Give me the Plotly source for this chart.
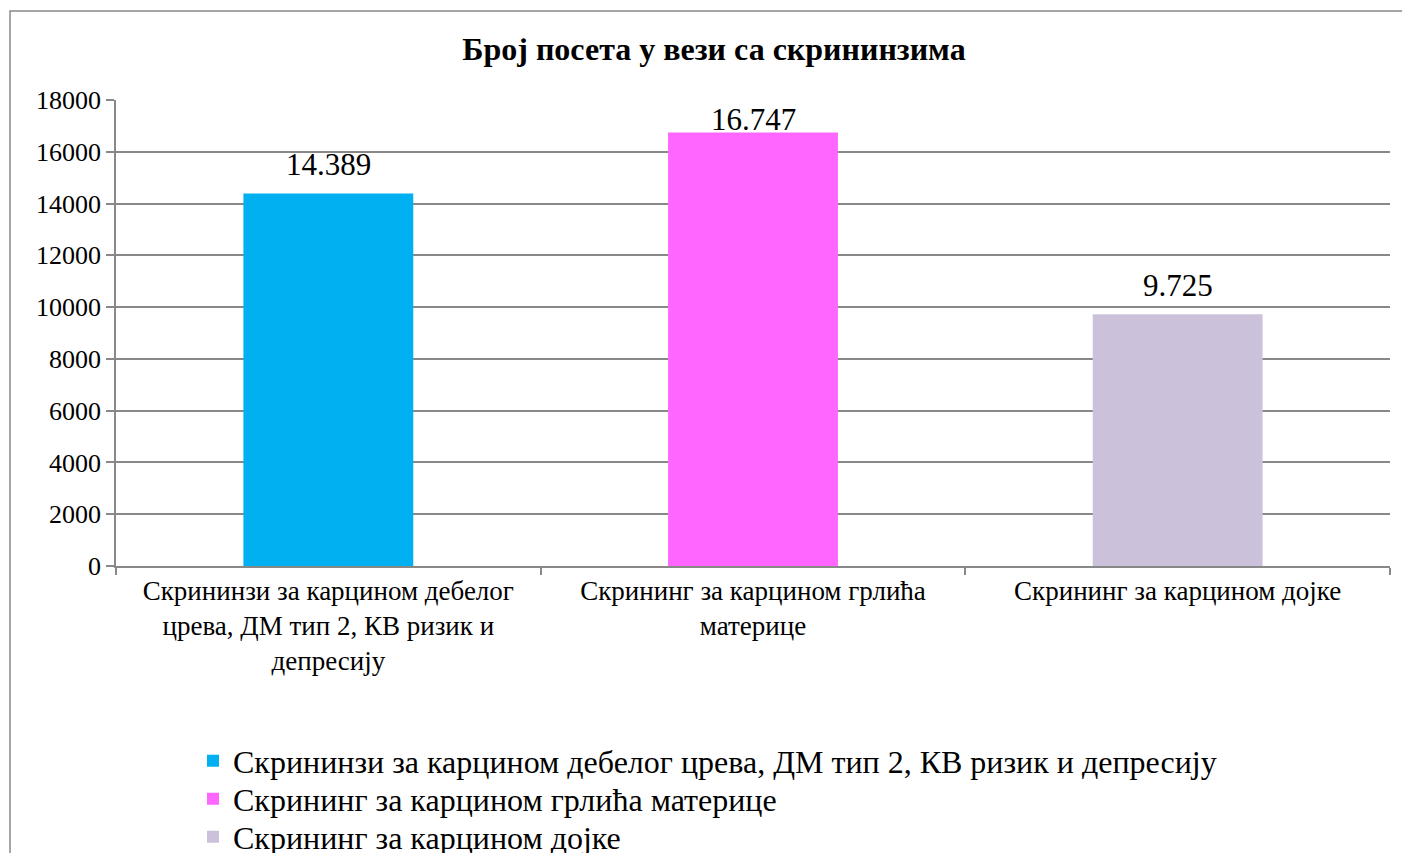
import plotly.graph_objects as go

categories = [
    "Скрининзи за карцином дебелог<br>црева, ДМ тип 2, КВ ризик и<br>депресију",
    "Скрининг за карцином грлића<br>материце",
    "Скрининг за карцином дојке",
]
legend_names = [
    "Скрининзи за карцином дебелог црева, ДМ тип 2, КВ ризик и депресију",
    "Скрининг за карцином грлића материце",
    "Скрининг за карцином дојке",
]
values = [14389, 16747, 9725]
value_labels = ["14.389", "16.747", "9.725"]
colors = ["#00B0F0", "#FF66FF", "#CCC1DA"]
y_ticks = [0, 2000, 4000, 6000, 8000, 10000, 12000, 14000, 16000, 18000]

FONT = "Liberation Serif"
GRID = "#888888"
Y_MAX = 18000

W, H = 1410, 853
OX, OY = 8, 9  # page offset of the figure in the screenshot
L, R, T, B = 108, 28, 92, 295
pw = W - L - R
ph = H - T - B

def px_x(sx):
    return (sx - OX - L) / pw

def px_y(sy):
    return (H - B - (sy - OY)) / ph

legend_keys = ["legend", "legend2", "legend3"]
legend_rows = [762, 800, 838]

fig = go.Figure()
for cat, name, val, col, lk in zip(categories, legend_names, values, colors, legend_keys):
    fig.add_trace(go.Bar(x=[cat], y=[val], name=name, marker_color=col,
                         marker_line_width=0, width=0.4, legend=lk))

LABEL_SIZE = 31
LABEL_GAP = 9
LABEL_H = LABEL_SIZE * 1.15
annotations = []
for cat, val, lab in zip(categories, values, value_labels):
    room = ph * (1 - val / Y_MAX)  # pixels between bar top and plot top
    if room >= LABEL_GAP + LABEL_H:
        ann = dict(y=val, yanchor="bottom", yshift=LABEL_GAP)
    else:  # clamp inside the plot area like the original chart
        ann = dict(y=Y_MAX, yanchor="top", yshift=0)
    annotations.append(dict(x=cat, text=lab, showarrow=False, xref="x", yref="y",
                            font=dict(family=FONT, size=LABEL_SIZE, color="black"), **ann))

legend_layout = {}
for lk, row in zip(legend_keys, legend_rows):
    legend_layout[lk] = dict(orientation="v", x=px_x(193), xanchor="left",
                             y=px_y(row), yanchor="middle",
                             font=dict(family=FONT, size=32, color="black"),
                             itemwidth=30, bgcolor="rgba(0,0,0,0)")

fig.update_layout(
    width=W, height=H,
    margin=dict(l=L, r=R, t=T, b=B, autoexpand=False),
    paper_bgcolor="white", plot_bgcolor="white",
    barmode="overlay",
    font=dict(family=FONT, color="black"),
    title=dict(text="<b>Број посета у вези са скрининзима</b>",
               x=(714 - OX) / W, xanchor="center", y=1 - (50 - OY) / H, yanchor="middle",
               font=dict(family=FONT, size=32, color="black")),
    xaxis=dict(type="category", tickson="boundaries", ticks="outside",
               ticklen=7, tickcolor=GRID, tickwidth=1.5,
               showline=True, linecolor=GRID, linewidth=1.5,
               showgrid=False, tickfont=dict(family=FONT, size=27, color="black")),
    yaxis=dict(range=[0, Y_MAX], tickvals=y_ticks, tickformat="d",
               ticks="outside", ticklen=8, tickcolor=GRID, tickwidth=1.5,
               showline=True, linecolor=GRID, linewidth=1.5,
               showgrid=True, gridcolor=GRID, gridwidth=1.5,
               zeroline=False,
               tickfont=dict(family=FONT, size=26, color="black")),
    annotations=annotations,
    shapes=[dict(type="rect", xref="paper", yref="paper",
                 x0=px_x(10), x1=px_x(1409), y0=px_y(900), y1=px_y(12),
                 line=dict(color=GRID, width=1.5), layer="below")],
    showlegend=True,
    **legend_layout,
)

fig.write_html("out.html")
